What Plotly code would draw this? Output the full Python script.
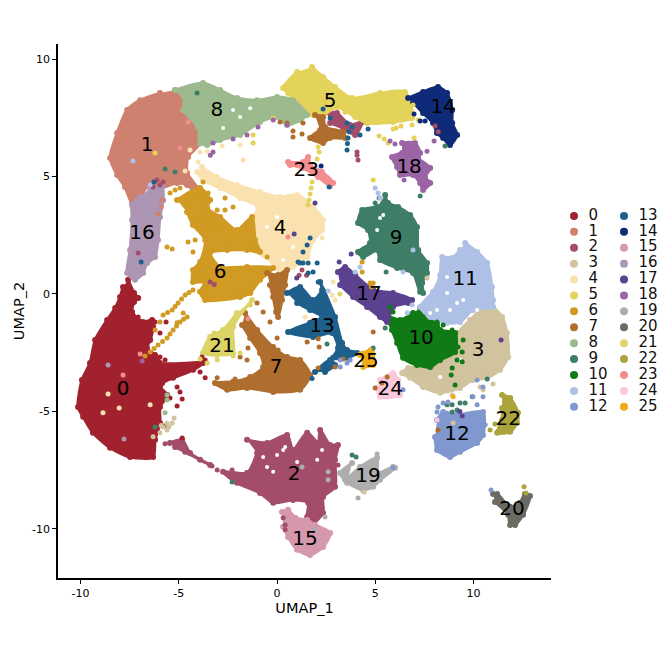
import plotly.graph_objects as go

## Cluster names and colours
clusters = [str(i) for i in range(26)]
colors = ["#A2212F", "#CF8170", "#A34C6B", "#D2C39F", "#FAE2B0", "#E4D35A", "#D19A22", "#AF6E2D", "#9DBA8F",
          "#3E7E66", "#0F7A16", "#AFC0E6", "#8098CF", "#1F5F8B", "#0E2A78", "#D598AC", "#AC96B4", "#5B418F",
          "#9B64A5", "#AEAEAE", "#6B6B63", "#DDD468", "#ABA43E", "#F48E8E", "#FAC8DA", "#F0AC1A"]

## Label positions, in UMAP units
label_x = [-7.84, -6.62, 0.87, 10.23, 0.15, 2.70, -2.90, -0.05, -3.06, 6.06, 7.33, 9.57, 9.16, 2.29, 8.45, 1.42,
           -6.87, 4.68, 6.72, 4.63, 11.96, -2.80, 11.76, 1.48, 5.76, 4.53]
label_y = [-4.08, 6.30, -7.70, -2.43, 2.77, 8.17, 0.89, -3.15, 7.79, 2.34, -1.92, 0.60, -6.00, -1.40, 7.91, -10.47,
           2.55, -0.04, 5.36, -7.80, -9.19, -2.26, -5.36, 5.23, -4.08, -2.89]

body0_x = [-7.58, -7.28, -7.07, -7.28, -7.38, -6.82, -6.36, -6.31, -6.46, -6.62, -6.21, -5.96, -3.77, -4.27, -5.29, -5.85, -5.96, -5.60, -5.96, -5.96, -6.21, -6.31, -7.48, -8.50, -9.37, -9.87, -10.13, -9.93, -9.52, -9.26, -8.65, -8.24, -7.99, -7.84]
body0_y = [0.60, 0.04, -0.17, -0.34, -0.77, -1.19, -1.11, -1.40, -1.96, -2.30, -2.60, -2.94, -2.94, -3.23, -3.57, -3.79, -3.96, -4.30, -4.81, -5.49, -6.21, -6.94, -6.94, -6.55, -5.91, -5.23, -4.81, -3.66, -2.94, -1.96, -1.11, -0.60, -0.13, 0.30]
body1_x = [-5.19, -4.68, -4.78, -4.02, -3.92, -4.53, -4.58, -4.07, -4.17, -4.58, -5.09, -5.96, -6.46, -6.97, -7.38, -7.74, -8.14, -8.50, -8.14, -7.63, -6.97, -5.96]
body1_y = [8.68, 8.17, 7.83, 7.11, 6.42, 5.83, 5.15, 4.51, 4.34, 4.64, 4.72, 4.51, 4.72, 4.13, 3.87, 4.55, 5.06, 5.79, 6.85, 7.83, 8.25, 8.55]
body2_x = [-1.53, -0.51, 0.51, 0.81, 1.53, 2.09, 2.19, 2.70, 3.10, 2.95, 2.95, 2.34, 2.34, 1.83, 1.53, 1.58, 0.81, -0.20, -0.87, -2.04, -2.75, -1.53, -1.02, None,
           -5.45, -4.83, -4.43, -3.41, -3.92, -4.68, -5.19, None,
           2.54, 3.05, 3.72, 4.33, 3.97, 3.36, 2.70]
body2_y = [-6.21, -6.34, -6.00, -6.64, -5.91, -6.34, -5.79, -6.43, -6.43, -7.06, -8.21, -8.64, -9.32, -9.74, -9.49, -8.89, -8.77, -8.89, -8.47, -8.04, -7.57, -7.62, -6.77, None,
           -6.34, -6.21, -6.77, -7.28, -7.06, -6.72, -6.51, None,
           7.74, 7.70, 7.19, 7.32, 6.77, 7.06, 7.28]
body3_x = [10.99, 11.45, 11.70, 11.76, 11.35, 10.69, 9.97, 9.31, 8.30, 7.43, 6.77, 6.36, 6.67, 7.63, 8.65, 9.06, 9.21, 9.82, 10.33]
body3_y = [-0.55, -0.98, -1.66, -2.68, -3.23, -3.57, -3.66, -4.00, -4.21, -3.96, -3.57, -3.36, -3.15, -3.02, -2.81, -2.38, -1.66, -1.11, -0.68]
body4_x = [-3.82, -3.06, -2.04, -0.87, 0.15, 1.02, 1.83, 2.34, 2.29, 1.83, 1.53, 0.81, 0.15, -0.20, -0.71, -1.22, -1.27, -0.97, -1.88, -2.90, -3.77, -4.07]
body4_y = [5.40, 4.98, 4.64, 4.34, 4.13, 4.21, 3.70, 3.15, 2.72, 2.30, 1.57, 1.15, 0.94, 1.32, 1.66, 2.60, 3.15, 3.70, 4.08, 4.51, 4.85, 5.19]
body5_x = [1.78, 2.34, 2.95, 3.82, 5.24, 6.51, 6.87, 5.90, 4.58, 3.97, 3.05, 2.34, 1.83, 1.17, 0.56, 0.31, 1.02]
body5_y = [9.66, 9.24, 8.81, 8.34, 8.55, 8.60, 7.49, 7.32, 7.28, 7.53, 7.96, 7.62, 7.62, 7.96, 8.55, 8.77, 9.45]
body6_x = [-5.09, -3.92, -3.41, -3.56, -2.90, -2.04, -1.27, -1.12, -0.87, -1.53, -2.54, -3.41, -2.90, -1.53, -0.20, -0.87, -1.37, -1.88, -3.66, -3.92, -3.66, -4.28, -4.28, -3.92, -3.66, -4.28, -4.58]
body6_y = [4.00, 4.51, 4.00, 3.66, 3.28, 2.72, 3.28, 2.30, 1.79, 1.87, 1.87, 1.74, 1.15, 1.15, 1.11, 0.60, 0.04, -0.13, -0.26, 0.09, 0.51, 0.51, 1.02, 1.36, 2.30, 2.94, 3.49]
body7_x = [-1.63, -1.02, -0.20, 0.51, 1.17, 1.68, 1.17, -0.20, -1.53, -2.54, -3.16, -2.24, -1.37, -0.71, -0.87, -1.37, -1.78, None,
           -0.51, 0.05, 0.51, 0.41, 0.25, 0.05, -0.05, -0.20, -0.36, None,
           1.93, 2.34, 2.44, 3.36, 3.46, 2.70, 2.34, 1.68, 2.19]
body7_y = [-0.81, -1.53, -2.26, -2.68, -2.81, -3.45, -4.08, -4.17, -4.00, -4.08, -3.79, -3.74, -3.53, -3.11, -2.51, -1.87, -1.32, None,
           0.89, 0.81, 1.02, 0.38, -0.26, -0.98, -0.77, -0.13, 0.38, None,
           7.62, 7.53, 7.11, 6.89, 6.64, 6.64, 6.43, 6.64, 6.98]
body8_x = [-5.19, -3.77, -2.90, -2.04, -1.02, 0.00, 0.81, 1.53, 1.17, 0.51, 0.00, -0.87, -1.88, -2.90, -3.56, -3.92, -4.02, -4.78, -4.68]
body8_y = [8.68, 8.98, 8.68, 8.34, 8.25, 8.38, 8.25, 7.62, 7.40, 7.19, 7.53, 7.32, 6.77, 6.55, 6.34, 6.42, 7.11, 7.83, 8.17]
body9_x = [5.50, 5.65, 6.16, 6.77, 7.12, 7.18, 7.63, 7.63, 7.38, 7.43, 7.28, 6.92, 6.11, 5.24, 5.09, 4.38, 4.12, 4.73, 4.63, 4.12, 4.33, 5.09]
body9_y = [4.21, 3.87, 3.70, 3.36, 2.85, 1.87, 1.32, 0.89, 0.47, 0.04, 0.09, 0.89, 1.11, 1.45, 1.87, 1.57, 1.79, 2.17, 2.72, 3.02, 3.57, 3.70]
body10_x = [7.28, 7.43, 8.14, 8.30, 9.06, 9.06, 8.30, 7.79, 7.12, 6.41, 6.11, 5.85, 5.65, 6.26, 6.92]
body10_y = [-0.60, -0.98, -1.23, -1.53, -1.66, -2.47, -2.81, -3.11, -3.02, -2.72, -2.09, -1.53, -0.98, -1.11, -0.81]
body11_x = [9.57, 10.18, 10.69, 10.94, 10.99, 10.99, 9.97, 9.31, 8.65, 7.79, 7.28, 7.94, 8.30, 8.40, 8.91, 9.31]
body11_y = [2.17, 1.79, 1.32, 0.30, -0.26, -0.55, -0.68, -1.19, -1.23, -0.98, -0.55, 0.09, 0.81, 1.57, 1.53, 1.87]
body12_x = [8.14, 8.45, 9.16, 10.48, 10.48, 10.18, 9.31, 8.80, 8.14, 8.04]
body12_y = [-5.36, -5.02, -5.15, -5.02, -6.00, -6.34, -6.72, -6.94, -6.64, -6.09]
body13_x = [0.51, 1.17, 1.83, 2.29, 2.19, 2.95, 3.31, 3.56, 4.07, 3.56, 2.85, 3.10, 2.80, 1.83, 0.56, 1.68, 2.29, 1.68, 1.02, None,
            1.93, 2.70, 2.95, 2.44]
body13_y = [0.04, 0.30, -0.26, 0.17, 0.51, -0.98, -2.09, -2.38, -2.51, -2.72, -2.72, -2.30, -1.66, -1.83, -1.62, -1.23, -0.98, -0.68, -0.38, None,
            -3.32, -2.81, -3.02, -3.32]
body14_x = [6.67, 7.43, 8.19, 8.65, 8.91, 8.91, 9.16, 8.80, 8.45, 8.14, 7.94, 7.43, 6.92]
body14_y = [8.34, 8.60, 8.81, 8.55, 7.83, 7.28, 6.77, 6.34, 6.64, 6.85, 7.28, 7.70, 8.17]
body15_x = [0.25, 0.56, 0.92, 1.53, 1.93, 2.70, 2.34, 1.68, 1.02, 0.56, 0.31]
body15_y = [-9.28, -9.19, -9.53, -9.62, -9.83, -10.17, -10.77, -11.11, -10.89, -10.34, -9.91]
body16_x = [-6.46, -5.85, -5.80, -5.96, -6.06, -6.21, -6.62, -6.82, -7.23, -7.63, -7.48, -7.38, -7.38, -6.97]
body16_y = [4.51, 4.55, 3.99, 3.28, 2.30, 1.57, 1.32, 0.89, 0.60, 0.89, 1.87, 3.15, 3.79, 4.13]
body17_x = [3.10, 3.46, 3.97, 4.89, 5.90, 6.87, 6.67, 5.90, 5.60, 5.24, 4.58, 3.87, 3.21]
body17_y = [0.94, 1.15, 0.81, 0.17, 0.04, -0.26, -0.38, -0.55, -1.19, -0.98, -0.55, -0.13, 0.38]
body18_x = [6.36, 7.02, 7.28, 7.18, 7.79, 7.53, 7.79, 7.43, 7.28, 6.92, 6.26, 6.11, 5.85, 6.36]
body18_y = [6.43, 6.43, 6.00, 5.79, 5.36, 4.98, 4.72, 4.43, 4.72, 5.06, 5.06, 5.40, 5.83, 6.00]
body19_x = [3.82, 3.21, 3.46, 4.22, 5.09, 5.14, 5.90, 6.00, 5.24, 4.89, 4.38, 3.56]
body19_y = [-7.19, -7.62, -7.91, -7.36, -6.98, -7.62, -7.36, -7.40, -7.91, -8.21, -8.34, -8.04]
body20_x = [10.99, 11.20, 11.86, 12.36, 12.62, 12.87, 12.52, 12.11, 11.86, 11.76, 11.09]
body20_y = [-8.51, -8.51, -9.06, -8.89, -8.51, -8.60, -9.40, -9.83, -9.83, -9.40, -8.85]
body21_x = [-1.27, -2.24, -2.24, -3.06, -3.77, -3.41, -2.75, -2.04]
body21_y = [-0.26, -1.40, -2.51, -2.60, -2.51, -1.83, -1.53, -0.81]
body22_x = [11.45, 11.86, 12.26, 12.21, 11.86, 11.20, 11.45, 11.45]
body22_y = [-4.30, -4.43, -5.06, -5.49, -5.87, -5.91, -5.36, -4.85]
body23_x = [0.56, 1.32, 1.58, 1.68, 2.29, 2.85, 2.70, 2.09, 1.32, 0.66]
body23_y = [5.62, 5.62, 5.83, 5.49, 5.19, 4.72, 4.60, 4.98, 5.36, 5.49]
body24_x = [5.24, 5.90, 6.16, 6.26, 5.24, 5.09]
body24_y = [-3.66, -3.36, -3.66, -4.30, -4.38, -4.00]
body25_x = [4.22, 4.83, 4.89, 4.38]
body25_y = [-2.60, -2.38, -3.02, -3.11]

## Empty spots inside the dense parts
gap_x = [-0.51, -0.20, 0.31, 0.00, -0.71, 0.41, 1.02, 2.04, 2.29, 5.40, 5.24, 5.09, 7.79, 8.14, 8.80, 9.47, 9.16, 10.18, 8.65, 8.65, 9.35, 8.30, 0.00, -0.51, 0.81, 0.31, -2.24, -1.37, -2.75, -1.88]
gap_y = [-7.36, -7.57, -6.64, -6.85, -6.94, -6.51, -7.15, -7.06, -6.64, 3.36, 3.23, 2.72, -0.81, -0.68, -0.68, -0.26, -0.38, -0.68, 0.04, 0.72, -2.81, -3.53, 3.28, 2.85, 2.00, 1.45, 7.83, 7.91, 7.06, 7.53]

## Loose cells away from the dense parts
cells0_x = [-7.07, -6.21, -5.65, -5.96, -5.96, -5.70, -6.06, -3.82, -3.66, -3.92, -3.66, -5.09, -4.94, -4.83, -5.09, -5.45, -5.75, -4.83]
cells0_y = [-0.98, -1.19, -1.19, -1.66, -2.68, -2.81, -2.81, -2.68, -2.81, -3.32, -3.57, -3.96, -4.17, -4.47, -4.77, -4.43, -5.62, -6.13]
cells1_x = [-5.85, -5.90, -6.06]
cells1_y = [4.00, 3.70, 3.40]
cells2_x = [4.07, 4.07, 4.12, 1.27, 1.12, 1.50, -3.41, -3.20, -6.11, -5.80, -6.31, -5.96, -7.07, 8.04, 8.20, -3.31, -3.05, -2.29, -1.93, -1.53, -1.22, -5.70, 0.31, 0.41, 0.41, 3.10]
cells2_y = [6.04, 5.90, 5.70, 1.02, 0.80, 0.80, 0.51, 0.40, 4.85, 4.77, 4.55, 4.64, 1.74, 7.15, 6.90, -7.32, -7.49, -7.49, -7.74, -7.87, -7.91, -6.38, -9.53, -10.04, -9.83, -7.28]
cells3_x = [-5.96, -5.60, -5.34, -5.80, -6.31, -5.24, -5.60, -5.90, -5.50, 8.91, 10.33, 10.99, 10.48, 7.63, 4.43, 8.96]
cells3_y = [-5.91, -5.79, -5.49, -5.66, -6.08, -5.28, -5.50, -5.60, -5.65, -4.30, -3.96, -3.83, -4.08, 0.68, -8.43, -5.49]
cells4_x = [-4.68, -4.02, -3.92, -3.56, -2.80, -1.88, -1.73, -4.43, -2.49, 2.29, 1.43, 2.85, 2.80, 2.95, -8.60, -8.04, -8.86, -6.46]
cells4_y = [5.23, 5.62, 6.04, 6.08, 6.30, 6.34, 5.70, 6.13, 4.72, 2.38, -0.98, 0.51, -0.04, -0.26, -4.26, -4.85, -5.06, -4.72]
cells5_x = [1.78, 1.73, 1.68, 1.63, 1.58, 2.09, 2.14, 2.04, 4.89, 5.19, 5.45, 5.65, 5.90, 6.06, 6.31, 6.87, 6.97, 7.18, 3.46, 6.92, 6.77, -1.22, -1.22, -6.21, -0.20]
cells5_y = [4.77, 4.51, 4.26, 4.00, 3.79, 6.26, 6.04, 5.74, 4.85, 6.72, 6.60, 6.43, 7.02, 7.06, 7.15, 7.19, 6.64, 7.40, 7.74, 8.04, 7.83, 6.77, 6.43, 6.00, 7.49]
cells6_x = [-4.28, -4.68, -5.04, -5.34, -5.80, -5.96, -4.58, -4.94, -5.29, -5.60, -6.06, -6.46, -6.72, -6.21, -4.78, -5.09, -4.48, -4.86, -5.19, -5.57, -4.76, -5.12, -5.45, -5.83, -6.26,
            -5.45, -5.19, -4.94, -4.53, -4.17, -3.51, -2.65, -3.05, -2.65, -2.24, -3.16, -2.75, -3.51, -4.53, -4.17, -5.60, -5.34, -4.28, -1.27, -0.51, -3.77, 4.73, 4.89, 4.80, 4.33, 4.33]
cells6_y = [0.17, -0.04, -0.38, -0.68, -0.89, -1.19, -0.98, -1.19, -1.53, -1.87, -2.17, -2.47, -2.64, -1.53, -0.81, -1.23, 0.06, -0.21, -0.53, -0.79, -1.08, -1.36, -1.70, -2.02, -2.32,
            4.30, 4.43, 4.51, 4.00, 4.34, 4.30, 4.08, 3.57, 3.57, 3.70, 3.02, 2.98, 2.94, 2.21, 2.30, 2.00, 1.91, 1.79, 2.51, 1.57, 4.77, 0.47, 0.47, 0.30, 1.36, 0.94]
cells7_x = [-1.02, -0.71, -0.36, 0.00, 0.05, -1.48, -1.88, -1.53, -3.05, -2.14, 0.15, 0.51, 0.81, 1.27, 0.81, 1.32, 1.53, 2.09, 2.14, 2.95, 3.36, 4.89, 5.60, 4.99, 5.34, 8.19, 2.09]
cells7_y = [-0.38, -0.77, -1.19, -1.87, -2.38, -2.30, -2.68, -2.81, -3.57, -3.62, 7.32, 7.28, 6.94, 6.81, 6.68, 7.28, -2.04, -1.91, -2.26, -3.11, -2.77, -1.62, -3.53, -4.00, -3.79, -5.79, -3.15]
cells8_x = [-5.60, -5.70, -5.60]
cells8_y = [-4.51, -5.06, -4.30]
cells9_x = [4.99, 5.19, 7.28, 8.55, 5.55, -4.07, -5.70, -5.19, -2.29, 4.89, 3.82, 4.02, 2.54, 5.50, 8.65, 8.91, 9.31, 9.57, 9.93, 8.91, 9.16, 10.69, -6.21]
cells9_y = [3.87, 4.08, 4.17, 6.30, 0.94, 8.55, 5.32, 5.19, -8.00, -2.30, -6.85, -6.94, -2.13, -1.45, -4.72, -4.72, -4.64, -4.64, -4.38, -5.02, -4.94, -3.62, -5.66]
cells10_x = [9.21, 9.42, 9.16, 9.42, 8.91, 8.86, 9.06, 5.75, 5.90, 8.14, 8.45, 8.91, 9.47]
cells10_y = [-2.26, -2.47, -2.81, -2.89, -3.15, -3.45, -3.87, -0.55, -0.77, -1.19, -1.32, -1.53, -1.96]
cells11_x = [4.99, 5.14, 5.24, 6.41, 4.22, 3.97, 6.92, -7.33, -6.46, 6.62, 6.87, 2.60]
cells11_y = [4.51, 4.30, 4.08, 0.94, 1.15, 0.94, 1.87, 5.66, 4.64, -0.81, -0.47, 0.13]
cells12_x = [8.19, 8.45, 8.70, 8.14, 10.18, 10.48, 9.97, 10.48, 10.18, 10.59, 3.21, 3.56, 3.21, 3.72, 5.90, 10.89, 6.41]
cells12_y = [-4.81, -4.64, -4.60, -5.02, -3.66, -3.96, -4.38, -4.38, -4.72, -5.57, -2.81, -2.94, -3.11, -2.81, -7.40, -8.34, -4.08]
cells13_x = [1.68, 1.53, 1.32, 1.07, 1.58, 1.17, 1.83, 2.09, 2.34, 1.32, 2.04, 1.58, 3.56, 3.82, 3.61, 3.56, 4.22, 4.63, 2.70, 2.34, 3.65, 3.58, 2.65, 1.78, -6.26, -6.92]
cells13_y = [2.38, 2.08, 1.79, 1.36, 1.32, 1.32, 0.94, 0.51, 0.17, 1.32, 1.32, 0.89, 7.28, 7.11, 6.64, 6.13, 6.77, 7.02, 7.49, 7.87, 6.90, 6.40, 4.55, -3.60, 4.77, 1.36]
cells14_x = [6.97, 7.28, 7.53, 2.24]
cells14_y = [7.66, 7.36, 7.36, 5.45]
cells16_x = [-8.60, -7.79]
cells16_y = [-3.02, -6.17]
cells17_x = [0.87, 1.93, 3.77, 3.16, 1.00, 11.40, 9.42, 9.30]
cells17_y = [2.55, 3.87, 1.70, 1.36, 0.68, -1.96, -5.19, -5.00]
cells18_x = [6.00, 5.75, 7.63, 7.99, 6.46, -3.26, -3.40, -3.26, -2.24, -1.53, -0.97, -0.20, 0.51, -6.87]
cells18_y = [6.38, 6.51, 6.08, 6.51, 4.85, 6.04, 5.90, 6.43, 6.60, 6.77, 7.11, 7.40, 7.19, -2.85]
cells19_x = [1.27, 2.60, 2.60, 4.12, 5.09, 2.44, 1.93]
cells19_y = [-7.36, -7.91, -7.57, -8.68, -6.81, -9.49, -10.00]
cells21_x = [-3.21, -3.05, -2.24, -1.88, -3.56, -3.92, -1.37, 3.20]
cells21_y = [-1.66, -2.81, -2.64, -2.51, -2.94, -2.77, -0.47, 0.00]
cells22_x = [10.84, 11.09, 12.57, 12.67]
cells22_y = [-5.79, -5.53, -8.21, -8.47]
cells23_x = [-4.94, -4.53, 0.56, -6.97, -1.48, -7.84]
cells23_y = [6.21, 7.32, 2.43, -2.55, -1.06, -3.45]
cells24_x = [8.14]
cells24_y = [-5.36]
cells25_x = [4.33, 4.73, 8.96]
cells25_y = [-2.51, -2.38, -4.38]

## Axis ticks
x_ticks = [-10, -5, 0, 5, 10]
x_labels = ["-10", "-5", "0", "5", "10"]
y_ticks = [-10, -5, 0, 5, 10]
y_labels = ["-10", "-5", "0", "5", "10"]

W = 672
H = 660
font = "DejaVu Sans"

fig = go.Figure()

## Outlines first, then gaps, then loose cells on top
for i in range(26):
    fig.add_trace(go.Scatter(x=globals()["body%d_x" % i], y=globals()["body%d_y" % i], mode="lines+markers",
                             fill="toself", fillcolor=colors[i],
                             line=dict(color=colors[i], width=3, shape="spline", smoothing=0.7),
                             marker=dict(color=colors[i], size=6), hoverinfo="skip", showlegend=False))
fig.add_trace(go.Scatter(x=gap_x, y=gap_y, mode="markers", marker=dict(color="white", size=4),
                         hoverinfo="skip", showlegend=False))
for i in range(26):
    if "cells%d_x" % i in globals():
        fig.add_trace(go.Scatter(x=globals()["cells%d_x" % i], y=globals()["cells%d_y" % i], mode="markers",
                                 marker=dict(color=colors[i], size=5), hoverinfo="skip", showlegend=False))

## Cluster numbers
fig.add_trace(go.Scatter(x=label_x, y=label_y, mode="text", text=clusters,
                         textfont=dict(family=font, size=20, color="black"), hoverinfo="skip", showlegend=False))

## Legend in two columns, on its own hidden axes
legend_col = [i // 13 for i in range(26)]
legend_row = [i % 13 for i in range(26)]
fig.add_trace(go.Scatter(x=legend_col, y=legend_row, xaxis="x2", yaxis="y2", mode="markers",
                         marker=dict(color=colors, size=8), hoverinfo="skip", showlegend=False))
fig.add_trace(go.Scatter(x=[c + 0.29 for c in legend_col], y=legend_row, xaxis="x2", yaxis="y2", mode="text",
                         text=clusters, textposition="middle right",
                         textfont=dict(family=font, size=15, color="#111111"), hoverinfo="skip", showlegend=False))

fig.update_layout(
    width=W, height=H, autosize=False, plot_bgcolor="white", paper_bgcolor="white",
    margin=dict(l=0, r=0, t=0, b=0), font=dict(family=font, color="black"), showlegend=False,
    xaxis=dict(domain=[58 / W, 551 / W], range=[-11.15, 13.94], tickvals=x_ticks, ticktext=x_labels,
               showgrid=False, zeroline=False, showline=True, linecolor="black", linewidth=1.5,
               ticks="outside", ticklen=4, tickcolor="black", tickfont=dict(size=11),
               title=dict(text="UMAP_1", font=dict(size=14.5), standoff=3)),
    yaxis=dict(domain=[82 / H, 616 / H], range=[-12.09, 10.64], tickvals=y_ticks, ticktext=y_labels,
               showgrid=False, zeroline=False, showline=True, linecolor="black", linewidth=1.5,
               ticks="outside", ticklen=4, tickcolor="black", tickfont=dict(size=11),
               title=dict(text="UMAP_2", font=dict(size=14.5), standoff=4)),
    xaxis2=dict(domain=[555 / W, 1], range=[-0.38, 1.96], visible=False, anchor="y2"),
    yaxis2=dict(domain=[240 / H, 460 / H], range=[12.83, -1.0], visible=False, anchor="x2"),
)

fig.write_html("out.html", post_script="document.body.style.margin='0';", config=dict(displayModeBar=False))
